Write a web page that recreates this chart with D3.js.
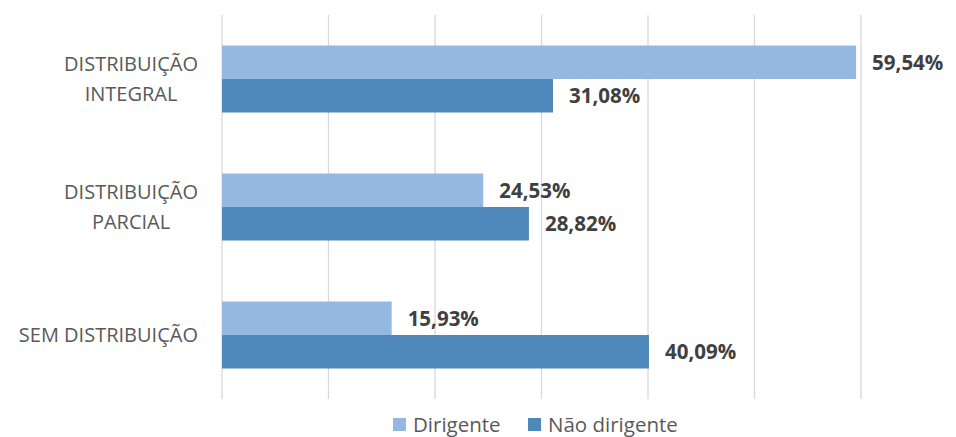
<!DOCTYPE html>
<html><head><meta charset="utf-8">
<script src="https://cdn.jsdelivr.net/npm/d3@7"></script>
<style>body{margin:0;background:#fff}svg{display:block}</style>
</head><body>
<svg id="c" width="956" height="437"></svg>
<script>
const categories = ["DISTRIBUIÇÃO INTEGRAL", "DISTRIBUIÇÃO PARCIAL", "SEM DISTRIBUIÇÃO"];
const categoryLines = [["DISTRIBUIÇÃO", "INTEGRAL"], ["DISTRIBUIÇÃO", "PARCIAL"], ["SEM DISTRIBUIÇÃO"]];
const seriesNames = ["Dirigente", "Não dirigente"];
const dirigente = [59.54, 24.53, 15.93];
const naoDirigente = [31.08, 28.82, 40.09];
const ticks = [0, 10, 20, 30, 40, 50, 60];
const colors = ["#95B8E0", "#4F89BC"];

const svg = d3.select("#c");
const font = "'Open Sans', sans-serif";
const x = d3.scaleLinear().domain([0, 60]).range([222, 861]);
const y = d3.scaleBand().domain(categories).range([15, 399]).paddingInner(0.4766).paddingOuter(0.2383);
const ySub = d3.scaleBand().domain(seriesNames).range([0, y.bandwidth()]);

svg.append("g").selectAll("line").data(ticks).join("line")
  .attr("x1", d => x(d)).attr("x2", d => x(d)).attr("y1", 15).attr("y2", 399)
  .attr("stroke", "#D9D9D9").attr("stroke-width", 1.3);

const series = [dirigente, naoDirigente];
series.forEach((vals, si) => {
  const g = svg.append("g");
  g.selectAll("rect").data(categories).join("rect")
    .attr("x", x(0)).attr("y", c => y(c) + ySub(seriesNames[si]))
    .attr("width", (c, i) => x(vals[i]) - x(0)).attr("height", ySub.bandwidth())
    .attr("fill", colors[si]);
  g.selectAll("text").data(categories).join("text")
    .attr("x", (c, i) => x(vals[i]) + 16)
    .attr("y", c => y(c) + ySub(seriesNames[si]) + ySub.bandwidth() / 2)
    .attr("dy", "0.36em")
    .attr("font-family", font).attr("font-weight", "bold").attr("font-size", 20.5)
    .attr("fill", "#404040")
    .text((c, i) => vals[i].toFixed(2).replace(".", ",") + "%");
});

categories.forEach((c, i) => {
  const lines = categoryLines[i];
  const cy = y(c) + y.bandwidth() / 2;
  const lh = 30;
  const g = svg.append("g");
  const texts = lines.map((t, j) => g.append("text")
      .attr("y", cy + (j - (lines.length - 1) / 2) * lh)
      .attr("dy", "0.36em").attr("text-anchor", "middle")
      .attr("font-family", font).attr("font-size", 20).attr("fill", "#595959")
      .text(t));
  const maxW = d3.max(texts, t => t.node().getComputedTextLength());
  texts.forEach(t => t.attr("x", 198 - maxW / 2));
});

const legendX = [393, 528];
seriesNames.forEach((s, i) => {
  svg.append("rect").attr("x", legendX[i]).attr("y", 418).attr("width", 13).attr("height", 13).attr("fill", colors[i]);
  svg.append("text").attr("x", legendX[i] + 20).attr("y", 425).attr("dy", "0.36em")
    .attr("font-family", font).attr("font-size", 20.5).attr("fill", "#595959").text(s);
});
</script>
</body></html>
